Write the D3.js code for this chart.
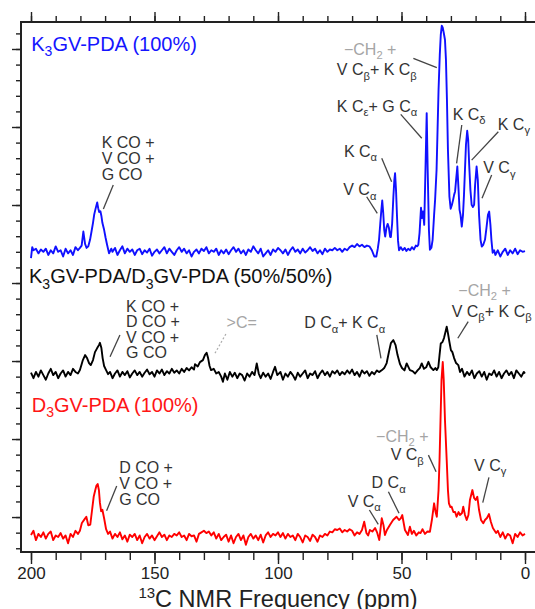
<!DOCTYPE html>
<html><head><meta charset="utf-8">
<script src="https://cdn.jsdelivr.net/npm/d3@7"></script>
<style>body{margin:0;background:#fff}svg{display:block}</style>
</head><body>
<script>
// ---------- DATA ----------
const seriesNames = ["K3GV-PDA (100%)", "K3GV-PDA/D3GV-PDA (50%/50%)", "D3GV-PDA (100%)"];
const seriesColors = ["#1010ff", "#000000", "#ff0000"];
const seriesOffsets = [17.0, 9.1, -1.28];   // vertical stacking offset (intensity units)

const ppmMajorTicks = [200, 150, 100, 50, 0];
const ppmMinorTicks = [200,190,180,170,160,150,140,130,120,110,100,90,80,70,60,50,40,30,20,10,0];
const intensityMajorTicks = [0, 5, 10, 15, 20, 25, 30];
const intensityMinorTicks = [-2,-1,0,1,2,3,4,5,6,7,8,9,10,11,12,13,14,15,16,17,18,19,20,21,22,23,24,25,26,27,28,29,30,31];

// [ppm, intensity above own baseline]
const k3gvSpectrum = [
[200,-0.4],[199.5,0.3],[199,0.1],[198,0.2],[197,-0.1],[196,0.15],[195,0],[194,0.2],[193,-0.2],[192,0.1],[191,-0.1],[190,0.35],[189,0],[188,0.1],[187,-0.3],[186,0.2],[185,-0.1],[184,0.1],[183,-0.2],[182,0.3],[181,0.1],[180.2,0.25],[179.5,0.4],[178.8,1.3],[178.1,0.5],[177.5,0.25],[176.8,0.35],[176.1,0.77],[175.5,1.3],[174.9,1.86],[174.4,2.4],[173.8,2.8],[173.2,3.16],[172.8,2.8],[172.4,2.55],[171.9,2.6],[171.5,2.3],[171.1,1.86],[170.4,1.41],[169.8,0.9],[169.2,0.45],[168.4,-0.1],[167.5,0.2],[167,0],[166,0.25],[165,-0.2],[164,0.1],[163,0.35],[162,-0.1],[161,0.2],[160,0],[159,0.15],[158,-0.2],[157,0.1],[156,0.2],[155,-0.15],[154,0.1],[153,-0.05],[152,0.2],[151,-0.25],[150,0],[149,0.15],[148,-0.1],[147,0.1],[146,0.3],[145,-0.1],[144,0.2],[143,0],[142,-0.2],[141,0.1],[140,0.3],[139,0],[138,0.2],[137,-0.1],[136,0.1],[135,-0.3],[134,0],[133,0.15],[132,-0.1],[131,0.2],[130,0.05],[129,0.3],[128,-0.1],[127,0.1],[126,0],[125,0.2],[124,-0.2],[123,0.1],[122,-0.1],[121,0.15],[120,-0.15],[119,0.1],[118,0.3],[117,0],[116,0.2],[115,-0.1],[114,0.1],[113,-0.2],[112,0.15],[111,0],[110,0.35],[109,0.1],[108,-0.1],[107,0.2],[106,-0.3],[105,-0.1],[104,0.1],[103,-0.2],[102,0.15],[101,0],[100,0.25],[99,0.1],[98,-0.1],[97,0.15],[96,-0.2],[95,0.1],[94,0.3],[93,0],[92,0.15],[91,-0.1],[90,0.2],[89,-0.05],[88,0.1],[87,0.3],[86,0.05],[85,0.2],[84,-0.1],[83,0.1],[82,-0.15],[81,0.2],[80,0],[79,0.15],[78,0.1],[77,0.25],[76,0.1],[75,0.2],[74,0],[73,0.2],[72,0.1],[71,0.3],[70,0.4],[69,0.3],[68,0.5],[67,0.35],[66,0.45],[65,0.3],[64,0.4],[63,0.35],[62,0.1],[61,-0.3],[60.2,-0.3],[59.6,0.2],[59.1,0.77],[58.6,1.8],[58.2,2.6],[57.8,3.29],[57.4,2.5],[57.0,1.4],[56.6,0.98],[56.1,1.54],[55.6,1.79],[55.1,1.54],[54.6,0.95],[54.3,0.95],[53.8,1.8],[53.3,3.5],[52.9,4.6],[52.6,5.04],[52.2,3.9],[51.8,2.2],[51.4,0.7],[51.0,0.1],[50.3,0.3],[49.5,0.1],[48.7,0.25],[48,0.05],[47.3,0.2],[46.5,0.1],[45.8,0.3],[45,0.15],[44.2,0.4],[43.6,0.35],[43.2,0.45],[42.7,1.2],[42.1,2.82],[41.7,2.16],[41.3,2.58],[40.8,1.73],[40.3,5.26],[39.8,8.89],[39.4,5.26],[38.9,1.41],[38.5,0.13],[37.9,0.26],[37.4,0.77],[36.8,2.37],[36.4,3.33],[35.8,5.26],[35.4,7.82],[35.0,10.38],[34.5,12.63],[34.1,13.9],[33.7,14.49],[33.3,14.36],[32.9,14.04],[32.4,13.59],[32.0,12.3],[31.6,9.74],[31.2,6.54],[30.6,3.54],[30.1,2.76],[29.6,3.0],[29.1,3.33],[28.7,3.65],[28.3,3.87],[27.9,4.6],[27.4,5.47],[26.9,3.97],[26.5,2.69],[26.1,2.37],[25.6,1.62],[25.1,2.37],[24.7,3.65],[24.3,5.26],[23.9,6.86],[23.4,7.76],[23.0,7.18],[22.6,5.58],[22.1,3.97],[21.6,3.01],[21.1,2.88],[20.6,3.01],[20.2,4.29],[19.6,5.47],[19.1,4.6],[18.6,2.37],[18.0,0.77],[17.5,0.34],[16.9,0.45],[16.2,0.77],[15.6,1.54],[15.0,2.37],[14.5,2.58],[14.0,1.73],[13.6,0.77],[13.1,-0.06],[12.5,0.1],[12,-0.2],[11,0.1],[10,-0.3],[9,0],[8,0.2],[7,-0.2],[6,0.1],[5,-0.1],[4,0.2],[3,-0.15],[2,0.1],[1,0],[0,0.05]
];

const mixSpectrum = [
[200,0.15],[199,-0.2],[198,0.2],[197,-0.1],[196,0.3],[195,0],[194,-0.3],[193,0.1],[192,0.4],[191,0],[190,0.2],[189,-0.2],[188,0.1],[187,0.3],[186,-0.1],[185,0.2],[184,0],[183,0.4],[182,0.2],[181,0.1],[180.2,0.32],[179.5,0.7],[179,0.96],[178.1,1.28],[177.3,1.09],[176.5,0.77],[175.8,0.64],[174.9,0.96],[174.1,1.47],[173.2,1.73],[172.5,1.92],[172.1,2.07],[171.5,1.73],[171.0,1.09],[170.4,0.58],[169.6,0.32],[168.8,0.06],[168,0.2],[167,-0.2],[166,0.1],[165,0.3],[164,-0.1],[163,0.2],[162,0],[161,0.25],[160,-0.15],[159,0.1],[158,0.3],[157,0],[156,0.2],[155,-0.1],[154,0.15],[153,0.35],[152,0.05],[151,0.2],[150,-0.1],[149,0.3],[148,0.1],[147,0.35],[146,0],[145,0.25],[144,0.1],[143,0.4],[142,0.15],[141,0.3],[140,0.1],[139,0.4],[138,0.2],[137,0.45],[136,0.3],[135,0.5],[134,0.35],[133.6,0.7],[132.5,0.55],[131.6,0.83],[130.4,0.96],[129.6,1.28],[128.9,1.43],[128.3,1.09],[127.7,0.58],[127.1,0.32],[126,0.4],[125,0.1],[124,0.2],[123,-0.1],[122.3,-0.43],[121.5,0.1],[120.5,-0.3],[119.5,0.2],[118.5,-0.1],[117.5,0.15],[116.5,-0.2],[115.5,0.1],[114.5,0],[113.5,-0.35],[112.5,0.1],[111.5,-0.1],[110.5,0.2],[109.5,0],[108.6,0.75],[107.8,0.1],[107,-0.2],[106,0.15],[105,-0.1],[104,0.1],[103,-0.25],[102,0.2],[101.2,0.53],[100.3,0],[99,0.2],[98,-0.3],[97,0.1],[96,-0.1],[95,0.2],[94,0],[93,-0.3],[92,0.15],[91,-0.1],[90,0.1],[89,0.3],[88,-0.2],[87,0.1],[86,0],[85,0.25],[84,-0.2],[83,0.1],[82,0.3],[81,0],[80,0.2],[79,-0.1],[78,0.25],[77,0.1],[76,0.3],[75,0],[74,0.2],[73,0.05],[72,0.3],[71,0.1],[70,0.35],[69,0],[68,0.2],[67,-0.1],[66,0.3],[65,0.1],[64,0.25],[63,-0.05],[62,0.2],[61,0.05],[60,0.3],[59.1,0.19],[57.9,0.32],[57,0.45],[56.0,0.77],[55.1,1.47],[54.3,2.05],[53.3,2.24],[52.4,1.92],[51.6,1.28],[50.6,0.7],[49.8,0.45],[48.8,0.3],[47.9,0.75],[46.6,0.32],[45.5,0.25],[44.5,0.1],[43.5,0.3],[42.6,0.45],[41.8,0.75],[40.9,0.4],[40,0.5],[39.1,0.85],[38.2,0.5],[37.1,0.32],[36.3,0.45],[35.7,0.32],[35.1,0.5],[34.6,1.28],[34.1,2.03],[33.4,2.12],[32.8,2.37],[32.2,2.76],[31.7,3.1],[31.2,2.69],[30.6,2.12],[30.0,1.6],[29.4,1.47],[28.7,1.09],[27.9,0.77],[27.0,0.64],[26.3,0.19],[25.5,0.4],[24.5,-0.1],[23.5,0.2],[22.5,0],[21.5,0.3],[20.5,-0.2],[19.5,0.1],[18.5,0.25],[17.5,-0.1],[16.5,0.2],[15.5,-0.3],[14.5,0.1],[13.5,0],[12.5,0.3],[11.5,-0.1],[10.5,0.2],[9.5,-0.2],[8.5,0.1],[7.5,0.3],[6.5,0],[5.5,0.2],[4.5,-0.2],[3.5,0.3],[2.5,0.1],[1.5,-0.1],[0.5,0.2],[0,0.1]
];

const d3gvSpectrum = [
[200,0.13],[199,0.4],[198,-0.2],[197,0.2],[196,0],[195,0.3],[194,-0.1],[193,0.2],[192,0.35],[191,-0.2],[190,0.1],[189,0],[188,0.25],[187,-0.1],[186,0.1],[185,-0.4],[184,0.2],[183,0],[182,0.4],[181,0.2],[180.2,0.4],[179.4,0.9],[178.5,1.1],[177.6,1.3],[176.8,0.75],[176,0.8],[175.3,1.7],[174.6,2.6],[174.0,3.0],[173.5,3.3],[173.0,3.4],[172.5,3.0],[172.1,2.2],[171.6,1.65],[171.1,1.75],[170.4,1.2],[169.6,0.5],[168.8,0.2],[168,0.35],[167,-0.1],[166,0.2],[165,0],[164,0.3],[163,-0.15],[162,0.1],[161,-0.3],[160,0.15],[159,0],[158,0.2],[157,-0.2],[156,0.1],[155,-0.4],[154,0],[153,0.2],[152,-0.1],[151,0.1],[150,-0.2],[149,0.05],[148,0.3],[147,0],[146,0.15],[145,-0.2],[144,0.1],[143,0],[142,0.2],[141,0.1],[140,0.3],[139,0],[138,0.1],[137,-0.2],[136,0.2],[135,0.05],[134,0.1],[133,-0.3],[132,0.2],[131,0.3],[130,0.4],[129,0.25],[128,0.35],[127,0.1],[126,0.3],[125,-0.1],[124,0.2],[123,-0.2],[122,0],[121,0.15],[120,-0.3],[119,0.1],[118,-0.4],[117,0],[116,0.2],[115,-0.2],[114,0.1],[113,-0.5],[112,0],[111,0.2],[110,-0.1],[109,0.1],[108,-0.2],[107,0.15],[106,-0.35],[105,0.1],[104,0.3],[103,0],[102,0.2],[101,0.1],[100,0.3],[99,0],[98,0.25],[97,-0.1],[96,0.2],[95,0],[94,0.1],[93,-0.2],[92,0.2],[91,0],[90,-0.35],[89,0.1],[88,0],[87,-0.25],[86,0.15],[85,0],[84,-0.3],[83,0.1],[82,0],[81,0.2],[80,0.1],[79,0.35],[78,0.3],[77,0.5],[76,0.45],[75,0.55],[74,0.3],[73,0.45],[72,0.35],[71,0.5],[70,0.4],[69,0.1],[68,0.3],[67,0.2],[66,0.45],[65.1,0.98],[64.2,0.26],[63.5,0.1],[62.8,0.45],[61.8,0.35],[60.7,0.58],[59.9,0.3],[59.0,-0.19],[58.5,0.5],[58.0,1.2],[57.3,0.77],[56.7,0.13],[55.9,0.45],[54.7,0.77],[53.4,1.09],[52.0,1.3],[51.0,1.09],[50.3,1.2],[49.7,1.41],[48.6,0.45],[47.4,0.13],[46.6,0.66],[45.8,0.2],[45,0.4],[44,0.1],[43,0.3],[42.3,0.25],[41.5,0.5],[40.5,0.2],[39.5,0.35],[38.5,0.34],[37.7,1.09],[36.8,2.16],[36.2,1.6],[35.7,1.3],[35.0,3.01],[34.6,4.94],[34.2,7.5],[33.8,10.06],[33.3,11.22],[32.9,10.06],[32.4,7.5],[31.7,4.94],[31.2,3.01],[30.8,2.16],[30.2,1.92],[29.7,1.94],[29.0,1.6],[28.3,1.6],[27.7,1.3],[26.9,1.6],[26.3,1.41],[25.5,1.54],[25.0,1.94],[24.3,1.41],[23.6,1.09],[22.9,1.41],[22.3,2.37],[21.3,3.01],[20.6,2.5],[20.0,2.37],[19.3,2.58],[18.6,1.73],[17.8,1.09],[16.9,0.88],[16.2,1.09],[15.4,1.22],[14.6,1.47],[13.8,0.96],[13.0,0.58],[11.7,0.26],[11,0.4],[10,0],[9,0.3],[8,-0.1],[7,0.2],[6,0.1],[5,-0.4],[4,0.2],[3,0],[2,0.3],[1,0.1],[0,0.2]
];

const spectra = [k3gvSpectrum, mixSpectrum, d3gvSpectrum];

// Labels: text lines ("_x" = subscript char), anchor in [ppm, intensity]
const titleLabels = [
  {lines:["K_3GV-PDA (100%)"], at:[199.9, 29.89], color:"#1515ff"},
  {lines:["K_3GV-PDA/D_3GV-PDA (50%/50%)"], at:[200.8, 14.98], color:"#111111"},
  {lines:["D_3GV-PDA (100%)"], at:[199.7, 6.75], color:"#ff1515"}
];
const peakLabels = [
  {lines:["K CO +","V CO +","G CO"], at:[171.4, 23.65], gap:16, color:"#333"},
  {lines:["\u2212CH_2 +"], at:[73.3, 29.62], color:"#a5a5a5"},
  {lines:["V C_\u03b2+ K C_\u03b2"], at:[76.2, 28.33], color:"#333"},
  {lines:["K C_\u03b5+ G C_\u03b1"], at:[76.2, 25.98], color:"#333"},
  {lines:["K C_\u03b4"], at:[29.3, 25.45], color:"#333"},
  {lines:["K C_\u03b3"], at:[11.05, 24.81], color:"#333"},
  {lines:["V C_\u03b3"], at:[16.9, 22.03], color:"#333"},
  {lines:["K C_\u03b1"], at:[73.3, 23.1], color:"#333"},
  {lines:["V C_\u03b1"], at:[73.6, 20.64], color:"#333"},
  {lines:["K CO +","D CO +","V CO +","G CO"], at:[161.5, 13.16], gap:15.5, color:"#333"},
  {lines:[">C="], at:[120.8, 12.1], color:"#a5a5a5"},
  {lines:["D C_\u03b1+ K C_\u03b1"], at:[89.4, 12.1], color:"#333"},
  {lines:["\u2212CH_2 +"], at:[27.0, 14.17], color:"#a5a5a5"},
  {lines:["V C_\u03b2+ K C_\u03b2"], at:[29.7, 12.84], color:"#333"},
  {lines:["D CO +","V CO +","G CO"], at:[164.3, 2.8], gap:16, color:"#333"},
  {lines:["\u2212CH_2 +"], at:[60.3, 4.83], color:"#a5a5a5"},
  {lines:["V C_\u03b2"], at:[54.4, 3.65], color:"#333"},
  {lines:["D C_\u03b1"], at:[62.1, 1.84], color:"#333"},
  {lines:["V C_\u03b1"], at:[71.8, 0.66], color:"#333"},
  {lines:["V C_\u03b3"], at:[20.6, 2.97], color:"#333"}
];
// leader lines [ppm1, int1, ppm2, int2, dotted]
const leaders = [
  [166.7,21.28,170.7,19.74,0],
  [45.2,29.4,35.7,28.8,0],
  [50.3,25.81,41.8,24.28,0],
  [25.6,25.13,27.7,22.67,0],
  [10.8,24.7,21.6,22.88,0],
  [13.5,21.92,17.4,20.43,0],
  [58.0,22.99,54.0,21.49,0],
  [64.1,20.53,59.8,19.47,0],
  [164.0,11.67,168.0,10.28,0],
  [121.1,11.73,125.7,10.45,1],
  [60.0,11.67,58.3,10.17,0],
  [23.0,12.52,27.2,11.46,0],
  [165.3,1.99,169.4,0.40,0],
  [39.1,3.97,36.0,2.90,0],
  [55.3,1.62,51.0,0.24,0],
  [63.0,0.45,59.4,-0.47,0],
  [14.6,2.54,17.1,0.92,0]
];

// ---------- CHART ----------
const W = 535, H = 609;
const FONT = "'Liberation Sans', Arial, Helvetica, sans-serif";
const frame = {left:21, top:22, bottom:552, right:540};
const x = d3.scaleLinear().domain([200, 0]).range([31, 525]);
const y = d3.scaleLinear().domain([-2.24, 31.73]).range([552, 22]);

const svg = d3.select("body").append("svg").attr("width", W).attr("height", H)
  .style("font-family", FONT);

function styleAxis(g){
  g.select(".domain").remove();
  g.selectAll(".tick line").attr("stroke", "#222").attr("stroke-width", 1.4);
}
// top axis
svg.append("g").attr("transform", `translate(0,${frame.top})`)
  .call(d3.axisTop(x).tickValues(ppmMinorTicks).tickSize(6).tickFormat("")).call(styleAxis);
svg.append("g").attr("transform", `translate(0,${frame.top})`)
  .call(d3.axisTop(x).tickValues(ppmMajorTicks).tickSize(10).tickFormat("")).call(styleAxis);
// bottom axis
svg.append("g").attr("transform", `translate(0,${frame.bottom})`)
  .call(d3.axisBottom(x).tickValues(ppmMinorTicks).tickSize(8).tickFormat("")).call(styleAxis);
const bx = svg.append("g").attr("transform", `translate(0,${frame.bottom})`)
  .call(d3.axisBottom(x).tickValues(ppmMajorTicks).tickSize(12).tickPadding(2.5).tickFormat(d3.format("d"))).call(styleAxis);
bx.selectAll(".tick text").attr("font-size", 17).attr("font-family", FONT).attr("fill", "#222");
// left axis
svg.append("g").attr("transform", `translate(${frame.left},0)`)
  .call(d3.axisLeft(y).tickValues(intensityMinorTicks).tickSize(5).tickFormat("")).call(styleAxis);
svg.append("g").attr("transform", `translate(${frame.left},0)`)
  .call(d3.axisLeft(y).tickValues(intensityMajorTicks).tickSize(9).tickFormat("")).call(styleAxis);
// frame lines
const fr = svg.append("g").attr("stroke", "#222").attr("stroke-width", 2).attr("fill","none");
fr.append("path").attr("d", `M${frame.right},${frame.top}H${frame.left}V${frame.bottom}H${frame.right}`);

// x title
const xt = svg.append("text").attr("x", x(100)).attr("y", 607).attr("text-anchor", "middle")
  .attr("font-size", 23.5).attr("fill", "#222");
xt.append("tspan").text("13").attr("font-size", 15).attr("dy", -9);
xt.append("tspan").text("C NMR Frequency (ppm)").attr("dy", 9);

// spectra
const line = d3.line().x(d => x(d[0])).y(d => y(d[1]));
spectra.forEach((s, i) => {
  const pts = s.map(d => [d[0], d[1] + seriesOffsets[i]]);
  svg.append("path").datum(pts).attr("d", line).attr("fill", "none")
    .attr("stroke", seriesColors[i]).attr("stroke-width", 1.9).attr("stroke-linejoin", "round");
});

// rich text helper
function rich(textSel, str, size){
  const segs = []; let buf = "";
  for (let i = 0; i < str.length; i++){
    if (str[i] === "_"){ if (buf) segs.push({t:buf, sub:false}); buf = ""; segs.push({t:str[i+1], sub:true}); i++; }
    else buf += str[i];
  }
  if (buf) segs.push({t:buf, sub:false});
  const sh = size * 0.28;
  let down = false;
  segs.forEach(s => {
    const ts = textSel.append("tspan").text(s.t);
    if (s.sub){ ts.attr("font-size", size*0.7); if(!down){ ts.attr("dy", sh); down = true; } }
    else if (down){ ts.attr("dy", -sh); down = false; }
  });
}
function drawLabel(lbl, size){
  const gap = lbl.gap || size;
  lbl.lines.forEach((ln, k) => {
    const t = svg.append("text").attr("x", x(lbl.at[0])).attr("y", y(lbl.at[1]) + k*gap)
      .attr("font-size", size).attr("fill", lbl.color);
    rich(t, ln, size);
  });
}
titleLabels.forEach(l => drawLabel(l, 20));
peakLabels.forEach(l => drawLabel(l, 16));

leaders.forEach(l => {
  svg.append("line").attr("x1", x(l[0])).attr("y1", y(l[1])).attr("x2", x(l[2])).attr("y2", y(l[3]))
    .attr("stroke", l[4] ? "#aaa" : "#444").attr("stroke-width", l[4] ? 1.2 : 1.3)
    .attr("stroke-dasharray", l[4] ? "2,2" : null);
});
</script>
</body></html>
